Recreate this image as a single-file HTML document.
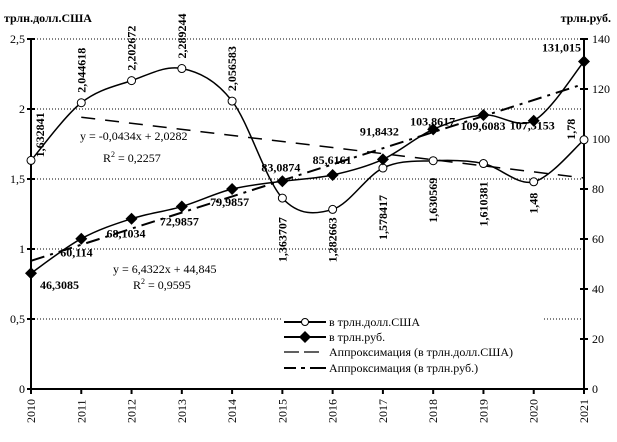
<!DOCTYPE html>
<html><head><meta charset="utf-8"><style>
body{margin:0;background:#fff}
svg{display:block;font-family:"Liberation Serif",serif}
.b{font-weight:bold;font-size:12px}
.t{font-size:12px}
</style></head><body>
<svg id="c" width="617" height="442" viewBox="0 0 617 442">
<text x="4" y="22" class="b" font-size="13">трлн.долл.США</text>
<text x="611" y="22" class="b" text-anchor="end">трлн.руб.</text>
<g id="grid"></g><g id="axes"></g><g id="series"></g><g id="labels"></g>
<text x="80" y="140" class="t">y = -0,0434x + 2,0282</text>
<text x="103" y="162" class="t">R<tspan font-size="8" dy="-5">2</tspan><tspan dy="5"> = 0,2257</tspan></text>
<text x="113" y="273" class="t">y = 6,4322x + 44,845</text>
<text x="133" y="289" class="t">R<tspan font-size="8" dy="-5">2</tspan><tspan dy="5"> = 0,9595</tspan></text>
<g>
<rect x="281" y="312" width="262" height="66" fill="#fff"/>
<g><line x1="284" y1="322" x2="326" y2="322" stroke="#000" stroke-width="2"/><circle cx="305" cy="322" r="3.5" fill="#fff" stroke="#000"/><text x="329" y="326" class="t">в трлн.долл.США</text></g>
<g><line x1="284" y1="337" x2="326" y2="337" stroke="#000" stroke-width="2"/><path d="M305 331 L311 337 L305 343 L299 337Z" fill="#000"/><text x="329" y="341" class="t">в трлн.руб.</text></g>
<g><line x1="284" y1="352" x2="320" y2="352" stroke="#000" stroke-width="1.2" stroke-dasharray="15,5"/><text x="329" y="356" class="t">Аппроксимация (в трлн.долл.США)</text></g>
<g><line x1="284" y1="368" x2="326" y2="368" stroke="#000" stroke-width="2" stroke-dasharray="12,5,4,5,16,0"/><text x="329" y="372" class="t">Аппроксимация (в трлн.руб.)</text></g>
</g>
</svg>
<script>
const years=[2010,2011,2012,2013,2014,2015,2016,2017,2018,2019,2020,2021];
const usd=[1.632841,2.044618,2.202672,2.289244,2.056583,1.363707,1.282663,1.578417,1.630569,1.610381,1.48,1.78];
const rub=[46.3085,60.114,68.1034,72.9857,79.9857,83.0874,85.6161,91.8432,103.8617,109.6083,107.3153,131.015];
const usdLabels=["1,632841","2,044618","2,202672","2,289244","2,056583","1,363707","1,282663","1,578417","1,630569","1,610381","1,48","1,78"];
const rubLabels=["46,3085","60,114","68,1034","72,9857","79,9857","83,0874","85,6161","91,8432","103,8617","109,6083","107,3153","131,015"];
const leftTicks=[0,0.5,1,1.5,2,2.5];
const leftTickLabels=["0","0,5","1","1,5","2","2,5"];
const rightTicks=[0,20,40,60,80,100,120,140];
const usdTrend=[-0.0434,2.0282];
const rubTrend=[6.4322,44.845];
const NS="http://www.w3.org/2000/svg";
const X0=31,X1=584,Y0=389,Y1=39;
const xs=i=>X0+(X1-X0)*i/(years.length-1);
const yl=v=>Y0-(Y0-Y1)*v/2.5;
const yr=v=>Y0-(Y0-Y1)*v/140;
function mk(t,a,p){const e=document.createElementNS(NS,t);for(const k in a)e.setAttribute(k,a[k]);p.appendChild(e);return e;}
const grid=document.getElementById('grid'),axes=document.getElementById('axes'),ser=document.getElementById('series'),lab=document.getElementById('labels');
leftTicks.forEach((v,i)=>{
 if(v>0){const g=mk('line',{x1:X0,x2:X1,y1:yl(v),y2:yl(v),stroke:'#000','stroke-dasharray':'1,2','stroke-width':1},grid);
 
 }
 const t=mk('text',{x:X0-6,y:yl(v)+4,'text-anchor':'end',class:'t'},axes);t.textContent=leftTickLabels[i];
 
 
 mk('line',{x1:X0-4,x2:X0+4,y1:yl(v),y2:yl(v),stroke:'#000','stroke-width':2},axes);
});
rightTicks.forEach(v=>{
 const t=mk('text',{x:X1+8,y:yr(v)+4,class:'t'},axes);t.textContent=v;
 
 
 mk('line',{x1:X1-4,x2:X1+4,y1:yr(v),y2:yr(v),stroke:'#000','stroke-width':2},axes);
});
mk('line',{x1:X0,x2:X0,y1:Y1,y2:Y0,stroke:'#000','stroke-width':2},axes);
mk('line',{x1:X1,x2:X1,y1:Y1,y2:Y0,stroke:'#000','stroke-width':2},axes);
mk('line',{x1:X0,x2:X1,y1:Y0,y2:Y0,stroke:'#000','stroke-width':2},axes);
years.forEach((y,i)=>{
 mk('line',{x1:xs(i),x2:xs(i),y1:Y0,y2:Y0+5,stroke:'#000','stroke-width':2},axes);
 const t=mk('text',{transform:`translate(${xs(i)+4},${Y0+34}) rotate(-90)`,class:'t'},axes);t.textContent=y;
 
 
});
function spline(pts){let d=`M${pts[0][0]},${pts[0][1]}`;for(let i=0;i<pts.length-1;i++){const p0=pts[Math.max(0,i-1)],p1=pts[i],p2=pts[i+1],p3=pts[Math.min(pts.length-1,i+2)];
 d+=` C${p1[0]+(p2[0]-p0[0])/6},${p1[1]+(p2[1]-p0[1])/6} ${p2[0]-(p3[0]-p1[0])/6},${p2[1]-(p3[1]-p1[1])/6} ${p2[0]},${p2[1]}`;}return d;}
const t1=mk('line',{x1:xs(1),y1:yl(usdTrend[0]*2+usdTrend[1]),x2:xs(11),y2:yl(usdTrend[0]*12+usdTrend[1]),stroke:'#000','stroke-width':1.5,'stroke-dasharray':'14,10'},ser);


const t2=mk('line',{x1:xs(0),y1:yr(rubTrend[0]*1+rubTrend[1]),x2:xs(11),y2:yr(rubTrend[0]*12+rubTrend[1]),stroke:'#000','stroke-width':2,'stroke-dasharray':'14,6,3,6'},ser);


const pu=usd.map((v,i)=>[xs(i),yl(v)]),pr=rub.map((v,i)=>[xs(i),yr(v)]);
const l1=mk('path',{d:spline(pu),fill:'none',stroke:'#000','stroke-width':1.5},ser);


const l2=mk('path',{d:spline(pr),fill:'none',stroke:'#000','stroke-width':1.5},ser);


pu.forEach(p=>{const c=mk('circle',{cx:p[0],cy:p[1],r:4,fill:'#fff',stroke:'#000'},ser);
 
 });
pr.forEach(p=>{const c=mk('path',{d:`M${p[0]},${p[1]-6} L${p[0]+6},${p[1]} L${p[0]},${p[1]+6} L${p[0]-6},${p[1]}Z`,fill:'#000'},ser);
 
 });
const above=[1,1,1,1,1,0,0,0,0,0,0,1];
const udy=[-3,-10,-10,-10,-10,19,8,27,17,18,11,0];
const udx=[13,4,4,4,4,4,4,4,4,4,4,-9];
usd.forEach((v,i)=>{const x=xs(i)+udx[i];const y=yl(v)+udy[i];
 const t=mk('text',{transform:`translate(${x},${y}) rotate(-90)`,class:'b','text-anchor':above[i]?'start':'end'},lab);t.textContent=usdLabels[i];
 
 });
const rdx=[9,-21,-25,-22,-22,-21,-20,-23,-23,-23,-24,-42],rdy=[16,18,19,19,17,-10,-11,-24,-4,15,9,-10];
rub.forEach((v,i)=>{const t=mk('text',{x:xs(i)+rdx[i],y:yr(v)+rdy[i],class:'b'},lab);t.textContent=rubLabels[i];
 
 });
</script>
</body></html>
